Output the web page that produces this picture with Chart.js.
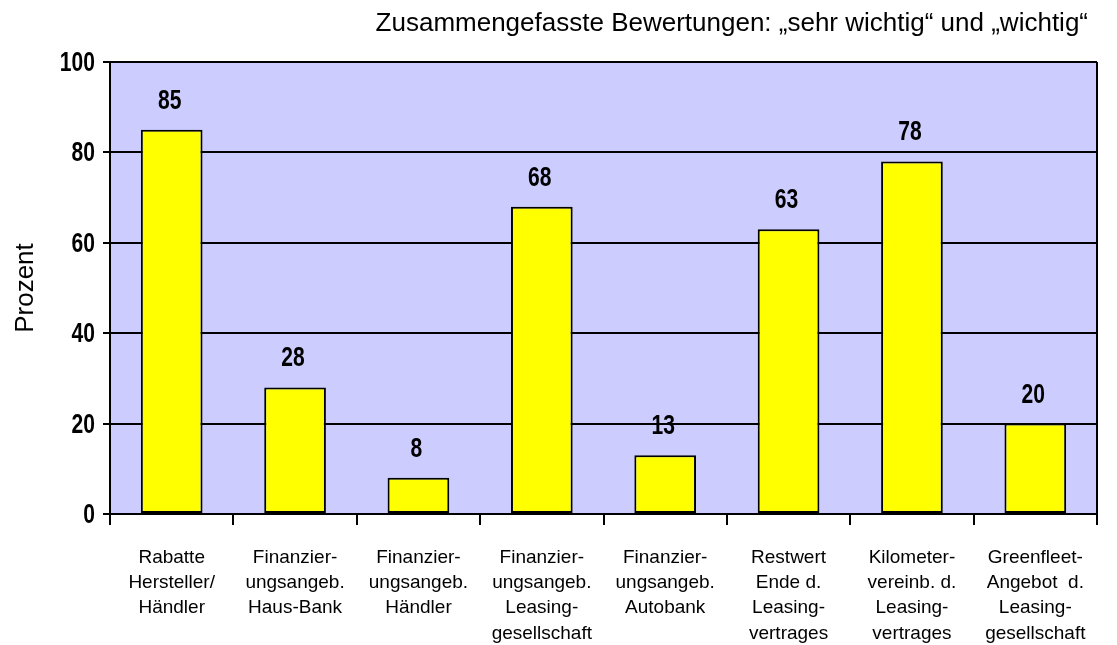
<!DOCTYPE html>
<html>
<head>
<meta charset="utf-8">
<script src="https://cdn.jsdelivr.net/npm/chart.js@4/dist/chart.umd.min.js"></script>
<style>
  html, body { margin: 0; padding: 0; background: #fff; }
  #wrap { width: 1117px; height: 645px; }
</style>
</head>
<body>
<div id="wrap"><canvas id="chart" width="1117" height="645"></canvas></div>
<script>
const titleText = "Zusammengefasste Bewertungen: \u201Esehr wichtig\u201C und \u201Ewichtig\u201C";

const categories = [
  ["Rabatte", "Hersteller/", "Händler"],
  ["Finanzier-", "ungsangeb.", "Haus-Bank"],
  ["Finanzier-", "ungsangeb.", "Händler"],
  ["Finanzier-", "ungsangeb.", "Leasing-", "gesellschaft"],
  ["Finanzier-", "ungsangeb.", "Autobank"],
  ["Restwert", "Ende d.", "Leasing-", "vertrages"],
  ["Kilometer-", "vereinb. d.", "Leasing-", "vertrages"],
  ["Greenfleet-", "Angebot  d.", "Leasing-", "gesellschaft"]
];

const values = [85, 28, 8, 68, 13, 63, 78, 20];

const yTicks = [0, 20, 40, 60, 80, 100];

const plain = "'Liberation Sans', Arial, sans-serif";
const boldNum = "bold 27px 'Liberation Sans', Arial, sans-serif";

// narrow bold numbers (no condensed font installed, so squeeze it)
function narrowText(ctx, txt, x, y) {
  ctx.save();
  ctx.translate(x, y);
  ctx.scale(0.78, 1);
  ctx.fillText(txt, 0, 0);
  ctx.restore();
}

// plot background + right frame + header
const plotFrame = {
  id: "plotFrame",
  beforeDraw(chart) {
    const { ctx, chartArea: a } = chart;
    ctx.save();
    ctx.fillStyle = "#ccccff";
    ctx.fillRect(a.left, a.top, a.right - a.left, a.bottom - a.top);
    ctx.restore();
  },
  afterDraw(chart) {
    const { ctx, chartArea: a } = chart;
    ctx.save();
    ctx.strokeStyle = "#000";
    ctx.lineWidth = 2;
    ctx.beginPath();
    ctx.moveTo(a.right, a.top);
    ctx.lineTo(a.right, a.bottom);
    ctx.stroke();
    ctx.fillStyle = "#000";
    ctx.font = "26px " + plain;
    ctx.textAlign = "right";
    ctx.textBaseline = "alphabetic";
    ctx.fillText(titleText, a.right - 9, 31);

    // y tick labels
    const y = chart.scales.y;
    ctx.font = boldNum;
    ctx.textAlign = "right";
    yTicks.forEach(v => {
      narrowText(ctx, String(v), a.left - 15, y.getPixelForValue(v) + 9);
    });
    ctx.restore();
  }
};

// value labels over the bars
const barLabels = {
  id: "barLabels",
  afterDatasetsDraw(chart) {
    const { ctx } = chart;
    const meta = chart.getDatasetMeta(0);
    ctx.save();
    ctx.fillStyle = "#000";
    ctx.font = boldNum;
    ctx.textAlign = "center";
    ctx.textBaseline = "alphabetic";
    meta.data.forEach((bar, i) => {
      narrowText(ctx, String(values[i]), bar.x - 2, bar.y - 21);
    });
    ctx.restore();
  }
};

new Chart(document.getElementById("chart"), {
  type: "bar",
  data: {
    labels: categories,
    datasets: [{
      data: values,
      backgroundColor: "#ffff00",
      borderColor: "#000",
      borderWidth: 2,
      borderSkipped: false,
      barPercentage: 0.5,
      categoryPercentage: 1
    }]
  },
  options: {
    responsive: false,
    animation: false,
    layout: { padding: { top: 62, right: 20, left: 0, bottom: 0 } },
    plugins: {
      legend: { display: false },
      tooltip: { enabled: false }
    },
    scales: {
      x: {
        offset: true,
        grid: {
          offset: true,
          drawOnChartArea: false,
          color: "#000",
          lineWidth: 2,
          tickLength: 11
        },
        border: { color: "#000", width: 2 },
        ticks: {
          color: "#000",
          font: { family: plain, size: 19, lineHeight: 1.33 },
          padding: 20,
          maxRotation: 0,
          autoSkip: false
        },
        afterFit(scale) { scale.height = 131; }
      },
      y: {
        min: 0,
        max: 100,
        afterBuildTicks(scale) { scale.ticks = yTicks.map(v => ({ value: v })); },
        grid: {
          color: "#000",
          lineWidth: 2,
          tickLength: 7
        },
        border: { color: "#000", width: 2 },
        ticks: { display: false },
        title: {
          display: true,
          text: "Prozent",
          color: "#000",
          font: { family: plain, size: 26 },
          padding: { top: 10, bottom: 0 }
        },
        afterFit(scale) { scale.width = 110; }
      }
    }
  },
  plugins: [plotFrame, barLabels]
});
</script>
</body>
</html>
